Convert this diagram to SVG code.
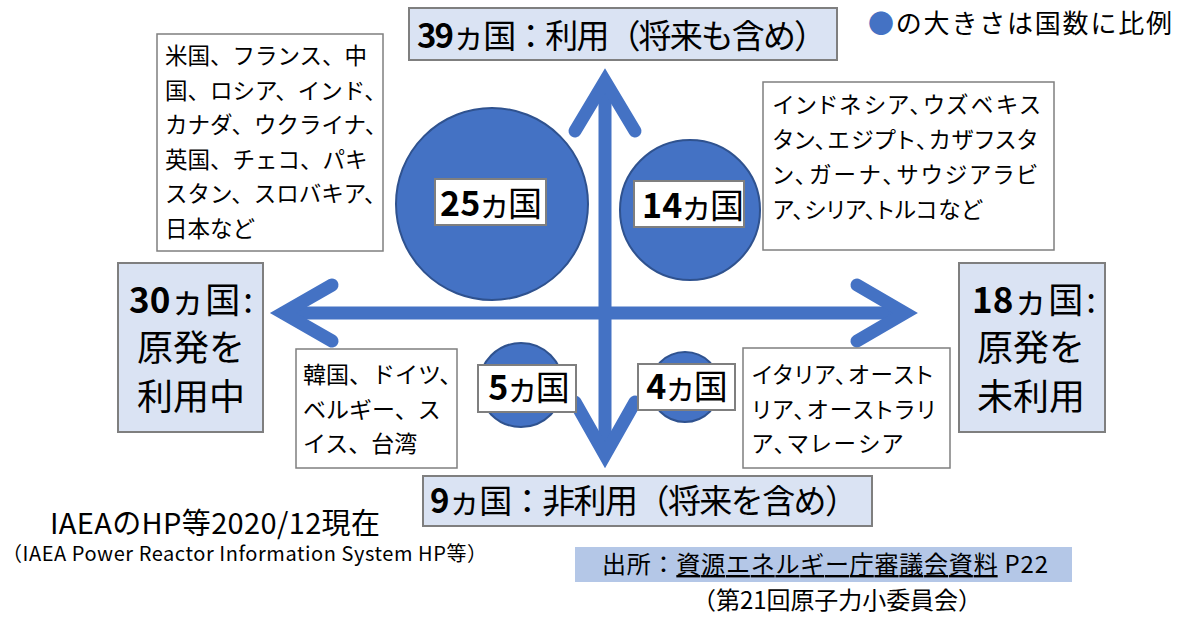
<svg xmlns="http://www.w3.org/2000/svg" width="1182" height="618" viewBox="0 0 1182 618">
<style>
text { font-family: "Noto Sans CJK JP", "Noto Sans", sans-serif; fill: #000; }
.p { font-feature-settings: "palt"; }
.b { font-weight: bold; }
.lbl { fill: #DAE3F3; stroke: #7F7F7F; stroke-width: 2; }
.box { fill: #FFFFFF; stroke: #7F7F7F; stroke-width: 1.5; }
.tag { fill: #FFFFFF; stroke: #7F7F7F; stroke-width: 2; }
.circ { fill: #4472C4; stroke: #2F528F; stroke-width: 2; }
.arr { stroke: #4472C4; stroke-width: 13; fill: none; }
.head { stroke: #4472C4; stroke-width: 13; fill: none; stroke-linecap: round; stroke-linejoin: miter; stroke-miterlimit: 10; }
</style>
<rect width="1182" height="618" fill="#FFFFFF"/>

<g id="connectors">
  <line class="arr" x1="605" y1="81" x2="605" y2="455"/>
  <polyline class="head" points="575,131 605,81 635,131"/>
  <polyline class="head" points="575,402 605,455 635,402"/>
  <line class="arr" x1="283" y1="313" x2="905" y2="313"/>
  <polyline class="head" points="332,285 283,313 332,341"/>
  <polyline class="head" points="857,285 905,313 857,341"/>
</g>

<g id="node-top">
  <rect class="lbl" x="409" y="8" width="428" height="52"/>
  <text x="417" y="48" font-size="33" textLength="410"><tspan class="b">39</tspan>ヵ国：利用（将来も含め）</text>
</g>

<g id="legend">
  <text x="868" y="33" font-size="26" textLength="304"><tspan style="fill:#4472C4">●</tspan>の大きさは国数に比例</text>
</g>

<g id="node-list-tl">
  <rect class="box" x="157" y="34" width="226" height="217"/>
  <text font-size="22.5">
    <tspan x="165" y="64">米国、フランス、中</tspan>
    <tspan x="165" y="99">国、ロシア、インド、</tspan>
    <tspan x="165" y="133">カナダ、ウクライナ、</tspan>
    <tspan x="165" y="168">英国、チェコ、パキ</tspan>
    <tspan x="165" y="202">スタン、スロバキア、</tspan>
    <tspan x="165" y="237">日本など</tspan>
  </text>
</g>

<g id="node-list-tr">
  <rect class="box" x="763" y="82" width="291" height="168"/>
  <text x="773" y="113" font-size="22.5" class="p" textLength="267">インドネシア、ウズベキス</text>
  <text x="773" y="148" font-size="22.5" class="p" textLength="264">タン、エジプト、カザフスタ</text>
  <text x="773" y="183" font-size="22.5" class="p" textLength="264">ン、ガーナ、サウジアラビ</text>
  <text x="773" y="218" font-size="22.5" class="p" textLength="209">ア、シリア、トルコなど</text>
</g>

<g id="node-left">
  <rect class="lbl" x="118" y="263" width="145" height="169"/>
  <text x="129" y="313" font-size="35"><tspan class="b">30</tspan>ヵ国<tspan dx="3">:</tspan></text>
  <text x="191" y="361" font-size="36" text-anchor="middle">原発を</text>
  <text x="191" y="410" font-size="36" text-anchor="middle">利用中</text>
</g>

<g id="node-right">
  <rect class="lbl" x="959" y="263" width="146" height="169"/>
  <text x="972" y="313" font-size="35"><tspan class="b">18</tspan>ヵ国<tspan dx="3">:</tspan></text>
  <text x="1031" y="361" font-size="36" text-anchor="middle">原発を</text>
  <text x="1031" y="410" font-size="36" text-anchor="middle">未利用</text>
</g>

<g id="node-25">
  <circle class="circ" cx="492" cy="204" r="96"/>
  <rect class="tag" x="435" y="179" width="111" height="46"/>
  <text x="491" y="216" font-size="34" text-anchor="middle" class="p"><tspan class="b">25</tspan>ヵ国</text>
</g>

<g id="node-14">
  <circle class="circ" cx="690" cy="210" r="70"/>
  <rect class="tag" x="634" y="181" width="110" height="46"/>
  <text x="693" y="218" font-size="34" text-anchor="middle" class="p"><tspan class="b">14</tspan>ヵ国</text>
</g>

<g id="node-5">
  <circle class="circ" cx="521" cy="385" r="42"/>
  <rect class="tag" x="478" y="365" width="98" height="47"/>
  <text x="529" y="400" font-size="34" text-anchor="middle" class="p"><tspan class="b">5</tspan>ヵ国</text>
</g>

<g id="node-4">
  <circle class="circ" cx="685" cy="387" r="35"/>
  <rect class="tag" x="638" y="364" width="97" height="46"/>
  <text x="687" y="399" font-size="34" text-anchor="middle" class="p"><tspan class="b">4</tspan>ヵ国</text>
</g>

<g id="node-list-bl">
  <rect class="box" x="296" y="349" width="161" height="119"/>
  <text font-size="23">
    <tspan x="303" y="383">韓国、ドイツ、</tspan>
    <tspan x="303" y="418">ベルギー、ス</tspan>
    <tspan x="303" y="452">イス、台湾</tspan>
  </text>
</g>

<g id="node-list-br">
  <rect class="box" x="743" y="348" width="207" height="120"/>
  <text x="752" y="383" font-size="22.5" class="p" textLength="181">イタリア、オースト</text>
  <text x="752" y="418" font-size="22.5" class="p" textLength="183">リア、オーストラリ</text>
  <text x="752" y="452" font-size="22.5" class="p" textLength="151">ア、マレーシア</text>
</g>

<g id="node-bottom">
  <rect class="lbl" x="423" y="476" width="449" height="50"/>
  <text x="430" y="513" font-size="33" textLength="428"><tspan class="b">9</tspan>ヵ国：非利用（将来を含め）</text>
</g>

<g id="note">
  <text x="50" y="534" font-size="29" textLength="330">IAEAのHP等2020/12現在</text>
  <text x="2" y="561" font-size="20" textLength="485">（IAEA Power Reactor Information System HP等）</text>
</g>

<g id="source">
  <rect x="575" y="547" width="497" height="35" fill="#B4C7E7"/>
  <text x="602" y="573" font-size="24" textLength="446">出所：<tspan style="text-decoration:underline">資源エネルギー庁審議会資料</tspan> P22</text>
  <text x="692" y="609" font-size="24" textLength="290">（第21回原子力小委員会）</text>
</g>
</svg>
